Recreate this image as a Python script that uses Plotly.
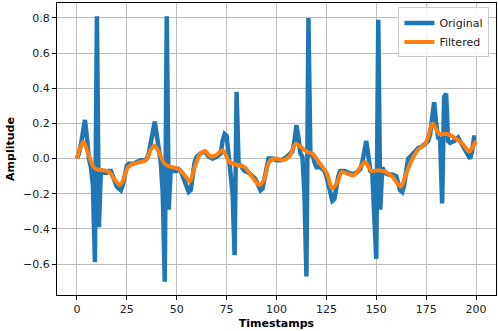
import plotly.graph_objects as go

# original signal (vertices)
orig_x = [0, 1, 2, 3, 4, 5, 6, 7, 8, 9, 10, 11, 12, 13, 14, 15, 16, 17, 18, 19, 20, 21, 22, 23, 24, 25, 26, 28, 30, 32, 34, 35, 36, 37, 38, 39, 40, 41, 42, 43, 44, 45, 46,
          47, 48, 50, 51, 52, 53, 54, 55, 56, 57, 58, 59, 60, 62, 64, 65, 66, 68, 70, 72, 73, 74, 75, 76, 77, 78, 79, 80, 81,
          82, 84, 86, 88, 89, 90, 91, 92, 93, 94, 95, 96, 98, 100, 102, 104, 106, 108, 109, 110, 111, 112, 113, 114, 115, 116, 117,
          118, 119, 120, 122, 124, 125, 126, 127, 128, 129, 130, 131, 132, 134, 136, 138, 140, 142, 143, 144, 145, 146, 147, 148, 149, 150, 151, 152,
          153, 154, 156, 158, 160, 161, 162, 163, 164, 165, 166, 167, 169, 171, 173, 175, 176, 177, 178, 179, 180, 181, 182, 183, 184, 185,
          186, 187, 189, 191, 192, 194, 196, 197, 198, 199, 200]
orig_y = [0.0, 0.03, 0.08, 0.17, 0.22, 0.12, 0.0, -0.05, -0.15, -0.59, 0.81, -0.39, -0.06, -0.08, -0.08, -0.08, -0.07, -0.07, -0.10, -0.13, -0.16, -0.17, -0.18, -0.15, -0.08, -0.04, -0.03, -0.03, -0.02, -0.01, -0.01, 0.0, 0.03, 0.08, 0.15, 0.21, 0.14, 0.05, -0.02, -0.20, -0.70, 0.81, -0.29,
          -0.06, -0.07, -0.07, -0.06, -0.07, -0.10, -0.14, -0.17, -0.19, -0.18, -0.10, -0.02, 0.01, 0.03, 0.04, 0.03, 0.01, 0.0, 0.01, 0.03, 0.10, 0.14, 0.13, 0.02, -0.03, -0.20, -0.55, 0.38, -0.03,
          -0.04, -0.07, -0.08, -0.10, -0.11, -0.13, -0.16, -0.18, -0.17, -0.12, -0.05, 0.0, 0.0, -0.01, -0.01, 0.0, 0.02, 0.04, 0.10, 0.19, 0.12, 0.03, 0.01, -0.20, -0.67, 0.80, 0.01,
          0.03, -0.02, -0.05, -0.05, -0.07, -0.10, -0.15, -0.20, -0.24, -0.23, -0.16, -0.10, -0.07, -0.07, -0.08, -0.09, -0.08, -0.06, -0.02, 0.05, 0.10, 0.02, -0.07, -0.08, -0.30, -0.57, 0.79, -0.29,
          -0.05, -0.08, -0.09, -0.09, -0.10, -0.15, -0.18, -0.19, -0.15, -0.07, 0.0, 0.01, 0.04, 0.06, 0.07, 0.085, 0.10, 0.14, 0.25, 0.32, 0.20, 0.12, 0.11, -0.255, 0.35, 0.37,
          0.10, 0.09, 0.10, 0.12, 0.10, 0.06, 0.02, 0.0, 0.04, 0.12, 0.12]

# filtered signal
filt_x = [0, 1.5, 3.3, 5, 6.5, 8.3, 10, 12, 14, 16.5, 19, 21.5, 23.3, 25.5, 28, 31.5, 34.5, 37, 38.8, 40.7, 42.5, 44, 47, 50.5, 54, 56.5,
          59, 62, 64.5, 67, 69.8, 73, 76.5, 80, 83.8, 87.2, 91.3, 93.8, 96.3, 99.7, 103, 106.3, 109.7, 112.2, 115.5, 118, 121.5,
          125.3, 127.8, 130.3, 132.8, 135.3, 138.7, 142, 144.5, 147.5, 151.2, 154.5, 157.8, 162.3, 164.5, 167.3, 170.5, 174.8,
          178.3, 181.5, 185.7, 189, 193.2, 196.5, 198.5, 200]
filt_y = [0.0, 0.06, 0.095, 0.05, 0.0, -0.047, -0.062, -0.066, -0.068, -0.08, -0.12, -0.15, -0.12, -0.05, -0.03, -0.02, -0.01, 0.05, 0.075, 0.045, 0.0, -0.03, -0.047, -0.057, -0.095, -0.13,
          -0.05, 0.03, 0.04, 0.012, 0.02, 0.047, -0.02, -0.035, -0.047, -0.095, -0.15, -0.12, -0.02, 0.0, -0.01, 0.01, 0.085, 0.066, 0.038, 0.028, -0.025,
          -0.085, -0.17, -0.14, -0.076, -0.085, -0.095, -0.05, -0.02, -0.07, -0.066, -0.076, -0.10, -0.16, -0.10, -0.02, 0.045, 0.09,
          0.20, 0.14, 0.14, 0.12, 0.085, 0.04, 0.07, 0.10]

x_ticks = [0, 25, 50, 75, 100, 125, 150, 175, 200]
y_ticks = [-0.6, -0.4, -0.2, 0.0, 0.2, 0.4, 0.6, 0.8]
y_tick_text = ['\u22120.6', '\u22120.4', '\u22120.2', '0.0', '0.2', '0.4', '0.6', '0.8']

fig = go.Figure()
fig.add_trace(go.Scatter(x=orig_x, y=orig_y, mode='lines', name='Original',
                         line=dict(color='#1f77b4', width=4.5)))
fig.add_trace(go.Scatter(x=filt_x, y=filt_y, mode='lines', name='Filtered',
                         line=dict(color='#ff7f0e', width=4, shape='spline', smoothing=0.8)))

axis_common = dict(showline=True, linecolor='black', linewidth=1, mirror=True,
                   ticks='outside', ticklen=4, tickcolor='black',
                   showgrid=True, gridcolor='#bdbdbd', gridwidth=1, zeroline=False,
                   tickfont=dict(family='DejaVu Sans', size=11, color='#222'))

fig.update_xaxes(range=[-10, 210], tickvals=x_ticks, **axis_common,
                 title=dict(text='<b>Timestamps</b>', font=dict(family='DejaVu Sans', size=11, color='black'), standoff=4))
fig.update_yaxes(range=[-0.776, 0.885], tickvals=y_ticks, ticktext=y_tick_text, **axis_common,
                 title=dict(text='<b>Amplitude</b>', font=dict(family='DejaVu Sans', size=11, color='black'), standoff=6))

fig.update_layout(
    width=498, height=331,
    margin=dict(l=57, r=2, t=3, b=36),
    plot_bgcolor='white', paper_bgcolor='white',
    font=dict(family='DejaVu Sans'),
    legend=dict(x=0.985, y=0.985, xanchor='right', yanchor='top',
                bgcolor='rgba(255,255,255,0.85)', bordercolor='#cccccc', borderwidth=1,
                font=dict(family='DejaVu Sans', size=11, color='#222'),
                tracegroupgap=0, itemwidth=30),
)

# page body has a default 8px margin; drop it so the figure sits at the window corner
fig.write_html("out.html", config={'displayModeBar': False},
               post_script="document.body.style.margin='0';")
